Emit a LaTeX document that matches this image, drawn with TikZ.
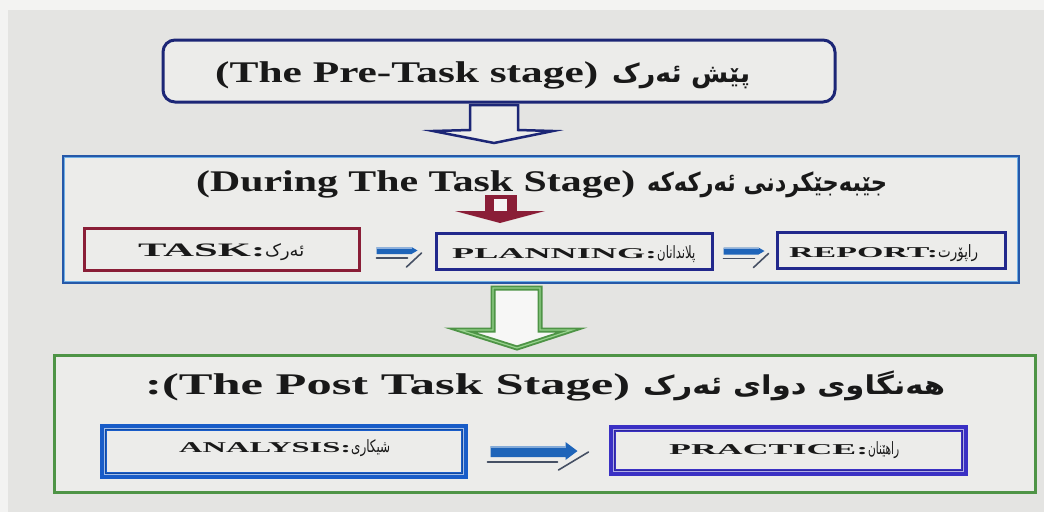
\documentclass[tikz,border=0pt]{standalone}
\usepackage{fontspec}
\usepackage{graphicx}
\setmainfont{Liberation Serif}
\newfontfamily\kurd[Script=Arabic]{DejaVu Sans}
\TeXXeTstate=1
\usetikzlibrary{calc}
\definecolor{bgc}{RGB}{228,228,226}
\definecolor{boxfill}{RGB}{236,236,234}
\definecolor{navyc}{RGB}{28,38,118}
\definecolor{midblue}{RGB}{38,88,168}
\definecolor{midlight}{RGB}{110,175,230}
\definecolor{maroonc}{RGB}{138,30,55}
\definecolor{planc}{RGB}{34,40,140}
\definecolor{greenc}{RGB}{78,148,70}
\definecolor{greenlight}{RGB}{150,210,140}
\definecolor{anablue}{RGB}{24,92,200}
\definecolor{pracc}{RGB}{58,48,196}
\definecolor{arrblue}{RGB}{30,100,185}
\definecolor{shadowc}{RGB}{70,80,100}
\definecolor{txtc}{RGB}{25,25,25}
\newcommand{\wideto}[2]{\resizebox{#1pt}{\height}{#2}}
\newcommand{\entl}[1]{{\bfseries\fontsize{30}{36}\selectfont #1}}
\newcommand{\kutl}[1]{{\kurd\bfseries\fontsize{26}{32}\selectfont\beginR #1\endR}}
\newcommand{\enbx}[2]{{\bfseries\fontsize{#1}{#1}\selectfont #2}}
\newcommand{\kubx}[1]{{\kurd\fontsize{17}{19}\selectfont\beginR #1\endR}}
\begin{document}
\begin{tikzpicture}[x=1pt,y=-1pt,
  frame/.style={rectangle, inner sep=0pt, line width=3pt, fill=boxfill},
  txt/.style={inner sep=0pt, text=txtc, anchor=base west},
  shadowline/.style={draw=shadowc, line width=1.6pt, line cap=round}]
\useasboundingbox (0,0) rectangle (1044,512);
\fill[bgc] (0,0) rectangle (1044,512);
\fill[white!55!bgc] (0,0) rectangle (1044,10);
\fill[white!55!bgc] (0,0) rectangle (8,512);

% ---- Pre-task
\node[frame, draw=navyc, rounded corners=12pt, minimum width=672pt, minimum height=62pt] (pre) at (499,71) {};
\node[txt] (pretxt) at (215,82) {\wideto{383}{\entl{(The Pre-Task stage)}}\hspace{14pt}\wideto{138}{\kutl{پێش ئەرک}}};

% blue hollow arrow
\draw[navyc, line width=2.5pt, fill=boxfill, line join=miter]
  (470,105) -- (518,105) -- (518,130) -- (553,131) -- (494,143) -- (433,131) -- (470,130) -- cycle;

% ---- During task
\node[frame, draw=midblue, minimum width=955pt, minimum height=126pt] (during) at (540.5,219) {};
\draw[midlight, line width=1pt] ([shift={(2.5,2.5)}]during.north west) rectangle ([shift={(-2.5,-2.5)}]during.south east);
\node[txt] (durtxt) at (196,191) {\wideto{439}{\entl{(During The Task Stage)}}\hspace{12pt}\wideto{240}{\kutl{جێبەجێکردنی ئەرکەکە}}};

% red arrow
\fill[maroonc] (485,195) rectangle (517,213);
\fill[white!60!bgc] (494,199) rectangle (507,213);
\fill[maroonc] (455,211) -- (545,211) -- (500,223) -- cycle;

\node[frame, draw=maroonc, minimum width=275pt, minimum height=42pt] (task) at (221.5,249) {};
\node[frame, draw=planc, minimum width=276pt, minimum height=36pt] (plan) at (574,251) {};
\node[frame, draw=planc, minimum width=228pt, minimum height=36pt] (report) at (891,250) {};

\node[txt] (tasktxt) at (138,256) {\wideto{127}{\enbx{19}{TASK:}}\wideto{39}{\kubx{ئەرک}}};
\node[txt] (plantxt) at (452,258) {\wideto{205}{\enbx{15}{PLANNING:}}\wideto{38}{\kubx{پلاندانان}}};
\node[txt] (reptxt) at (789,257) {\wideto{149}{\enbx{15}{REPORT:}}\wideto{40}{\kubx{راپۆرت}}};

% small arrows
\coordinate (a1) at ($(task.east)!0.5!(plan.west)$);
\coordinate (a2) at ($(plan.east)!0.5!(report.west)$);
\foreach \c in {a1,a2}{
  \begin{scope}[shift={(\c)}]
    \fill[arrblue] (-21,-3) -- (14,-3) -- (20,0.5) -- (14,4) -- (-21,4) -- cycle;
    \fill[white!50!arrblue] (-21,-3) rectangle (14,-1.5);
    \draw[shadowline] (-21,8) -- (10,8);
    \draw[shadowline] (9,17) -- (24,3);
  \end{scope}
}

% green arrow
\draw[greenc, line width=5pt, fill=white!70!bgc, line join=miter]
  (493,288) -- (540,288) -- (540,330) -- (572,330) -- (517,348) -- (460,330) -- (493,330) -- cycle;
\draw[greenlight, line width=1.2pt, line join=miter]
  (493,288) -- (540,288) -- (540,330) -- (572,330) -- (517,348) -- (460,330) -- (493,330) -- cycle;

% ---- Post task
\node[frame, draw=greenc, minimum width=981pt, minimum height=137pt] (post) at (544.5,423.5) {};
\node[txt] (posttxt) at (145,394) {\wideto{485}{\entl{:(The Post Task Stage)}}\hspace{13pt}\wideto{302}{\kutl{هەنگاوی دوای ئەرک}}};

\node[frame, draw=anablue, line width=7pt, minimum width=361pt, minimum height=48pt] (ana) at (284,451.5) {};
\draw[white!60!anablue, line width=1.2pt] ([shift={(4.2,4.2)}]ana.north west) rectangle ([shift={(-4.2,-4.2)}]ana.south east);
\draw[anablue!80!black, line width=0.9pt] ([shift={(5.8,5.8)}]ana.north west) rectangle ([shift={(-5.8,-5.8)}]ana.south east);
\node[frame, draw=pracc, line width=7pt, minimum width=352pt, minimum height=44pt] (prac) at (788.5,450.5) {};
\draw[white!60!pracc, line width=1.2pt] ([shift={(4.2,4.2)}]prac.north west) rectangle ([shift={(-4.2,-4.2)}]prac.south east);
\draw[pracc!80!black, line width=0.9pt] ([shift={(5.8,5.8)}]prac.north west) rectangle ([shift={(-5.8,-5.8)}]prac.south east);

\node[txt] (anatxt) at (179,452) {\wideto{172}{\enbx{15}{ANALYSIS:}}\wideto{39}{\kubx{شیکاری}}};
\node[txt] (practxt) at (669,454) {\wideto{199}{\enbx{15}{PRACTICE:}}\wideto{31}{\kubx{راهێنان}}};

% big arrow
\coordinate (a3) at ($(ana.east)!0.5!(prac.west)$);
\begin{scope}[shift={(a3)}]
  \fill[arrblue] (-48,-5) -- (27,-5) -- (27,-9) -- (39,0) -- (27,9) -- (27,6) -- (-48,6) -- cycle;
  \fill[white!45!arrblue] (-48,-5) rectangle (27,-3.5);
  \draw[shadowline] (-51,11) -- (19,11);
  \draw[shadowline] (20,19) -- (50,1);
\end{scope}
\end{tikzpicture}
\end{document}
